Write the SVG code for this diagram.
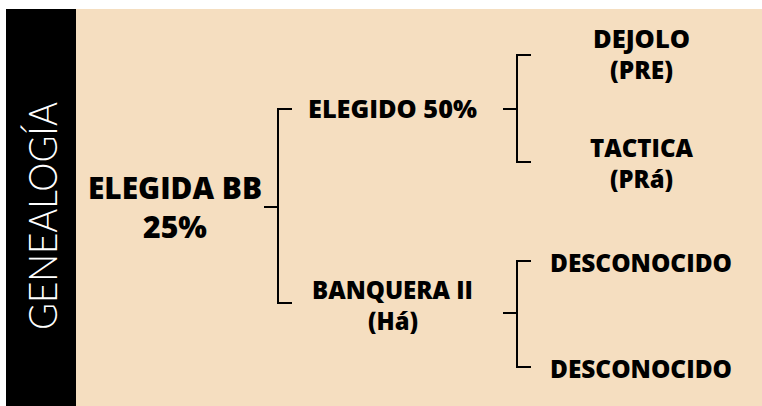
<svg xmlns="http://www.w3.org/2000/svg" width="762" height="406" viewBox="0 0 762 406">
<style>
.t{font-family:"Open Sans","Liberation Sans",sans-serif;font-weight:800;fill:#000;text-anchor:middle}
.m{font-size:25.5px}
.s{font-size:24px}
.b{font-size:30.5px}
.c{fill:none;stroke:#000;stroke-width:2;stroke-linecap:butt}
</style>
<rect x="0" y="0" width="762" height="406" fill="#ffffff"/>
<rect x="76" y="9" width="686" height="397" fill="#F5DEC0"/>
<rect x="6" y="9" width="70" height="397" fill="#000000"/>
<g id="title">
<text transform="translate(57,330) rotate(-90)" x="0" y="0" font-family="Lato,'Open Sans',sans-serif" font-weight="300" font-size="40" fill="#ffffff" textLength="228" lengthAdjust="spacingAndGlyphs">GENEALOGÍA</text>
</g>
<g id="connectors">
<path class="c" d="M264,207 H278 M292,109 H278 V303 H292"/>
<path class="c" d="M503,109 H517 M531,55 H517 V162 H531"/>
<path class="c" d="M503,313 H517 M531,261 H517 V367 H531"/>
</g>
<g id="n-elegida-bb">
<text class="t b" x="175" y="199" textLength="174" lengthAdjust="spacingAndGlyphs">ELEGIDA BB</text>
<text class="t b" x="175" y="238" textLength="64" lengthAdjust="spacingAndGlyphs">25%</text>
</g>
<g id="n-elegido">
<text class="t m" x="392.5" y="118" textLength="169" lengthAdjust="spacingAndGlyphs">ELEGIDO 50%</text>
</g>
<g id="n-banquera">
<text class="t m" x="392.5" y="299" textLength="161" lengthAdjust="spacingAndGlyphs">BANQUERA II</text>
<text class="t m" x="393" y="330" textLength="50" lengthAdjust="spacingAndGlyphs">(Há)</text>
</g>
<g id="n-dejolo">
<text class="t m" x="641.5" y="48" textLength="97" lengthAdjust="spacingAndGlyphs">DEJOLO</text>
<text class="t m" x="641.5" y="79" textLength="63" lengthAdjust="spacingAndGlyphs">(PRE)</text>
</g>
<g id="n-tactica">
<text class="t m" x="641.5" y="157" textLength="103" lengthAdjust="spacingAndGlyphs">TACTICA</text>
<text class="t s" x="641.5" y="188" textLength="63" lengthAdjust="spacingAndGlyphs">(PRá)</text>
</g>
<g id="n-desconocido-1">
<text class="t m" x="641" y="272" textLength="182" lengthAdjust="spacingAndGlyphs">DESCONOCIDO</text>
</g>
<g id="n-desconocido-2">
<text class="t m" x="641" y="378" textLength="182" lengthAdjust="spacingAndGlyphs">DESCONOCIDO</text>
</g>
</svg>
